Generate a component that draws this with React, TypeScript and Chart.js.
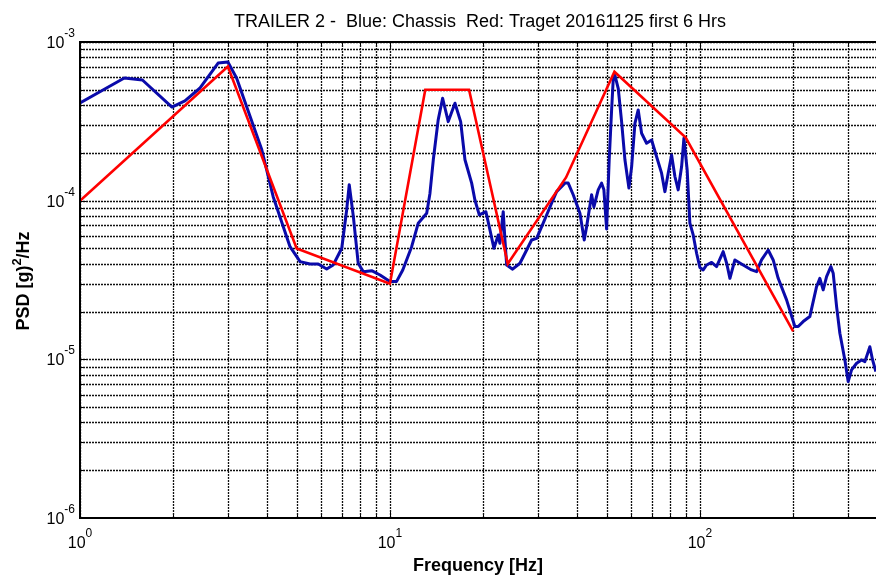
import { useEffect, useRef } from 'react';
import { Chart, registerables } from 'chart.js';

Chart.register(...registerables);

// ---- data ----
const blueFreq = [
  1.0, 1.39, 1.59, 1.98, 2.18, 2.44, 2.79, 3.0, 3.2, 3.86, 4.2, 4.76, 5.13, 5.52, 5.87, 6.25, 6.56, 6.99, 7.25, 7.39,
  7.62, 7.9, 8.2, 8.73, 9.29, 10.0, 10.5, 11.0, 11.75, 12.34, 13.14, 13.46, 13.8, 14.31, 14.79, 15.42, 16.21, 16.91, 17.46, 18.35,
  18.8, 19.42, 20.4, 20.91, 21.65, 22.36, 22.63, 23.2, 23.5, 23.8, 24.88, 26.27, 27.61, 28.65, 29.74, 31.22, 33.23, 34.49, 36.69, 37.6,
  39.02, 41.02, 42.35, 43.11, 44.74, 45.51, 46.98, 48.18, 49.01, 50.0, 50.98, 51.9, 52.52, 53.18, 54.51, 55.9, 57.3, 59.02, 60.23, 61.72,
  63.24, 64.85, 67.31, 69.86, 72.5, 75.23, 77.11, 79.02, 81.04, 83.06, 85.11, 87.3, 88.8, 90.99, 92.83, 95.15, 97.59, 100.0, 102.5, 105.1,
  109.1, 113.2, 118.9, 122.0, 125.0, 129.7, 137.9, 146.8, 152.4, 158.1, 166.1, 172.4, 178.9, 190.4, 202.5, 207.5, 215.4, 226.3, 237.9, 243.8,
  249.9, 256.3, 264.6, 269.2, 276.1, 282.9, 293.6, 300.9, 308.6, 320.3, 332.4, 340.7, 353.5, 360.7, 369.6,
];
const bluePsd = [
  4.13e-4, 5.93e-4, 5.76e-4, 3.89e-4, 4.25e-4, 5.13e-4, 7.37e-4, 7.48e-4, 5.93e-4, 2.09e-4, 1.06e-4, 5.13e-5, 4.13e-5, 3.99e-5, 3.99e-5, 3.71e-5, 3.93e-5, 5.01e-5, 8.74e-5, 1.26e-4,
  7.93e-5, 4.03e-5, 3.57e-5, 3.62e-5, 3.4e-5, 3.09e-5, 3.09e-5, 3.66e-5, 5.13e-5, 7.21e-5, 8.33e-5, 1.11e-4, 1.81e-4, 3.23e-4, 4.42e-4, 3.15e-4, 4.11e-4, 3.15e-4, 1.81e-4, 1.29e-4,
  1.01e-4, 8.13e-5, 8.52e-5, 6.86e-5, 5.01e-5, 6.08e-5, 5.39e-5, 8.52e-5, 5.65e-5, 3.93e-5, 3.7e-5, 4.03e-5, 4.89e-5, 5.65e-5, 5.79e-5, 7.21e-5, 9.63e-5, 1.14e-4, 1.29e-4, 1.29e-4,
  1.09e-4, 8.33e-5, 5.65e-5, 6.86e-5, 1.09e-4, 9.13e-5, 1.17e-4, 1.29e-4, 1.17e-4, 6.63e-5, 1.81e-4, 3.73e-4, 5.76e-4, 6.19e-4, 5.11e-4, 3.15e-4, 1.81e-4, 1.2e-4, 1.64e-4, 3.07e-4,
  3.73e-4, 2.66e-4, 2.3e-4, 2.41e-4, 1.89e-4, 1.49e-4, 1.14e-4, 1.49e-4, 1.94e-4, 1.42e-4, 1.17e-4, 1.64e-4, 2.47e-4, 1.56e-4, 7.21e-5, 6.08e-5, 4.66e-5, 3.79e-5, 3.66e-5, 3.93e-5,
  4.08e-5, 3.84e-5, 4.77e-5, 4.03e-5, 3.24e-5, 4.23e-5, 3.93e-5, 3.66e-5, 3.57e-5, 4.23e-5, 4.89e-5, 4.23e-5, 3.24e-5, 2.37e-5, 1.61e-5, 1.61e-5, 1.73e-5, 1.86e-5, 2.87e-5, 3.24e-5,
  2.74e-5, 3.32e-5, 3.84e-5, 3.49e-5, 2.15e-5, 1.46e-5, 9.91e-6, 7.24e-6, 8.58e-6, 9.45e-6, 9.91e-6, 9.67e-6, 1.2e-5, 9.91e-6, 8.37e-6,
];
const redFreq = [1, 3, 5, 10, 13, 18, 24, 37, 53, 90, 200];
const redPsd = [1e-4, 7e-4, 5e-5, 3e-5, 5e-4, 5e-4, 4e-5, 1.4e-4, 6.5e-4, 2.5e-4, 1.5e-5];

const xRange = [1, 370];
const yRange = [1e-6, 1e-3];
const xDecadeExps = [0, 1, 2];
const yDecadeExps = [-6, -5, -4, -3];

const titleText = 'TRAILER 2 -  Blue: Chassis  Red: Traget 20161125 first 6 Hrs';
const xTitleText = 'Frequency [Hz]';
const yTitleParts = ['PSD [g)', '2', '/Hz'];

const W = 876;
const H = 575;
const FONT = '"Liberation Sans", Arial, Helvetica, sans-serif';

function gridValues(min: number, max: number): number[] {
  const out: number[] = [];
  const e0 = Math.floor(Math.log10(min) + 1e-9);
  const e1 = Math.ceil(Math.log10(max) - 1e-9);
  for (let e = e0; e <= e1; e++) {
    for (let m = 1; m <= 9; m++) {
      const v = m * Math.pow(10, e);
      if (v >= min * 0.9999 && v <= max * 1.0001) out.push(v);
    }
  }
  return out;
}

function isDecade(v: number) {
  const l = Math.log10(v);
  return Math.abs(l - Math.round(l)) < 1e-6;
}

function drawPow(ctx: CanvasRenderingContext2D, exp: number, x: number, baseY: number, align: 'center' | 'right') {
  const baseFont = `16px ${FONT}`;
  const expFont = `12px ${FONT}`;
  ctx.font = baseFont;
  const wb = ctx.measureText('10').width;
  ctx.font = expFont;
  const es = String(exp);
  const we = ctx.measureText(es).width;
  const total = wb + we;
  const start = align === 'center' ? x - total / 2 : x - total;
  ctx.textAlign = 'left';
  ctx.textBaseline = 'alphabetic';
  ctx.font = baseFont;
  ctx.fillText('10', start, baseY);
  ctx.font = expFont;
  ctx.fillText(es, start + wb, baseY - 11);
}

const decor = {
  id: 'decor',
  beforeDatasetsDraw(chart: any) {
    const { ctx, chartArea: a, scales } = chart;
    const xs = scales.x;
    const ys = scales.y;
    ctx.save();
    ctx.beginPath();
    ctx.rect(a.left, a.top, a.right - a.left, a.bottom - a.top);
    ctx.clip();
    ctx.strokeStyle = '#111';
    ctx.lineWidth = 1.3;
    ctx.setLineDash([2, 1]);
    for (const v of gridValues(xs.min, xs.max)) {
      const px = Math.round(xs.getPixelForValue(v)) + 0.5;
      ctx.beginPath();
      ctx.moveTo(px, a.top);
      ctx.lineTo(px, a.bottom);
      ctx.stroke();
    }
    for (const v of gridValues(ys.min, ys.max)) {
      const py = Math.round(ys.getPixelForValue(v)) + 0.5;
      ctx.beginPath();
      ctx.moveTo(a.left, py);
      ctx.lineTo(a.right, py);
      ctx.stroke();
    }
    ctx.restore();
  },
  afterDatasetsDraw(chart: any) {
    const { ctx, chartArea: a, scales } = chart;
    const xs = scales.x;
    const ys = scales.y;
    ctx.save();
    ctx.setLineDash([]);
    ctx.strokeStyle = '#000';
    // ticks (inward)
    ctx.lineWidth = 1;
    for (const v of gridValues(xs.min, xs.max)) {
      const px = Math.round(xs.getPixelForValue(v)) + 0.5;
      const len = isDecade(v) ? 6 : 3;
      ctx.beginPath();
      ctx.moveTo(px, a.bottom);
      ctx.lineTo(px, a.bottom - len);
      ctx.moveTo(px, a.top);
      ctx.lineTo(px, a.top + len);
      ctx.stroke();
    }
    for (const v of gridValues(ys.min, ys.max)) {
      const py = Math.round(ys.getPixelForValue(v)) + 0.5;
      const len = isDecade(v) ? 6 : 3;
      ctx.beginPath();
      ctx.moveTo(a.left, py);
      ctx.lineTo(a.left + len, py);
      ctx.stroke();
    }
    // axes box
    ctx.lineWidth = 2;
    ctx.beginPath();
    ctx.moveTo(W + 2, a.top);
    ctx.lineTo(a.left, a.top);
    ctx.lineTo(a.left, a.bottom);
    ctx.lineTo(W + 2, a.bottom);
    ctx.stroke();

    // tick labels
    ctx.fillStyle = '#000';
    for (const e of xDecadeExps) {
      const px = xs.getPixelForValue(Math.pow(10, e));
      drawPow(ctx, e, px, a.bottom + 30, 'center');
    }
    for (const e of yDecadeExps) {
      const py = ys.getPixelForValue(Math.pow(10, e));
      drawPow(ctx, e, a.left - 5, py + 6, 'right');
    }

    // title
    ctx.font = `18px ${FONT}`;
    ctx.textAlign = 'center';
    ctx.textBaseline = 'alphabetic';
    ctx.fillText(titleText, 480, 27);

    // x title
    ctx.font = `bold 18px ${FONT}`;
    ctx.fillText(xTitleText, 478, 571);

    // y title (rotated, with superscript)
    ctx.translate(29, 281);
    ctx.rotate(-Math.PI / 2);
    const fMain = `bold 18px ${FONT}`;
    const fSup = `bold 13px ${FONT}`;
    ctx.font = fMain;
    const w0 = ctx.measureText(yTitleParts[0]).width;
    const w2 = ctx.measureText(yTitleParts[2]).width;
    ctx.font = fSup;
    const w1 = ctx.measureText(yTitleParts[1]).width;
    const tot = w0 + w1 + w2;
    let sx = -tot / 2;
    ctx.textAlign = 'left';
    ctx.font = fMain;
    ctx.fillText(yTitleParts[0], sx, 0);
    sx += w0;
    ctx.font = fSup;
    ctx.fillText(yTitleParts[1], sx, -8);
    sx += w1;
    ctx.font = fMain;
    ctx.fillText(yTitleParts[2], sx, 0);
    ctx.restore();
  },
};

export default function App() {
  const ref = useRef<HTMLCanvasElement | null>(null);
  useEffect(() => {
    if (!ref.current) return;
    const chart = new Chart(ref.current, {
      type: 'line',
      data: {
        datasets: [
          {
            label: 'Red: Target',
            data: redFreq.map((f, i) => ({ x: f, y: redPsd[i] })),
            borderColor: '#FF0000',
            borderWidth: 2.6,
            pointRadius: 0,
            tension: 0,
            order: 0,
            borderJoinStyle: 'miter',
          },
          {
            label: 'Blue: Chassis',
            data: blueFreq.map((f, i) => ({ x: f, y: bluePsd[i] })),
            borderColor: '#0A0AAA',
            borderWidth: 3,
            pointRadius: 0,
            tension: 0,
            order: 1,
            borderJoinStyle: 'round',
          },
        ],
      },
      options: {
        animation: false,
        responsive: false,
        devicePixelRatio: 1,
        events: [],
        layout: { padding: { left: 80, top: 42, right: 0, bottom: 57 } },
        scales: {
          x: { type: 'logarithmic', min: xRange[0], max: xRange[1], display: false },
          y: { type: 'logarithmic', min: yRange[0], max: yRange[1], display: false },
        },
        plugins: {
          legend: { display: false },
          tooltip: { enabled: false },
          title: { display: false },
        },
      },
      plugins: [decor],
    });
    return () => chart.destroy();
  }, []);
  return (
    <div style={{ position: 'fixed', left: 0, top: 0, width: W, height: H, background: '#fff' }}>
      <canvas ref={ref} width={W} height={H} style={{ display: 'block', width: W, height: H }} />
    </div>
  );
}
